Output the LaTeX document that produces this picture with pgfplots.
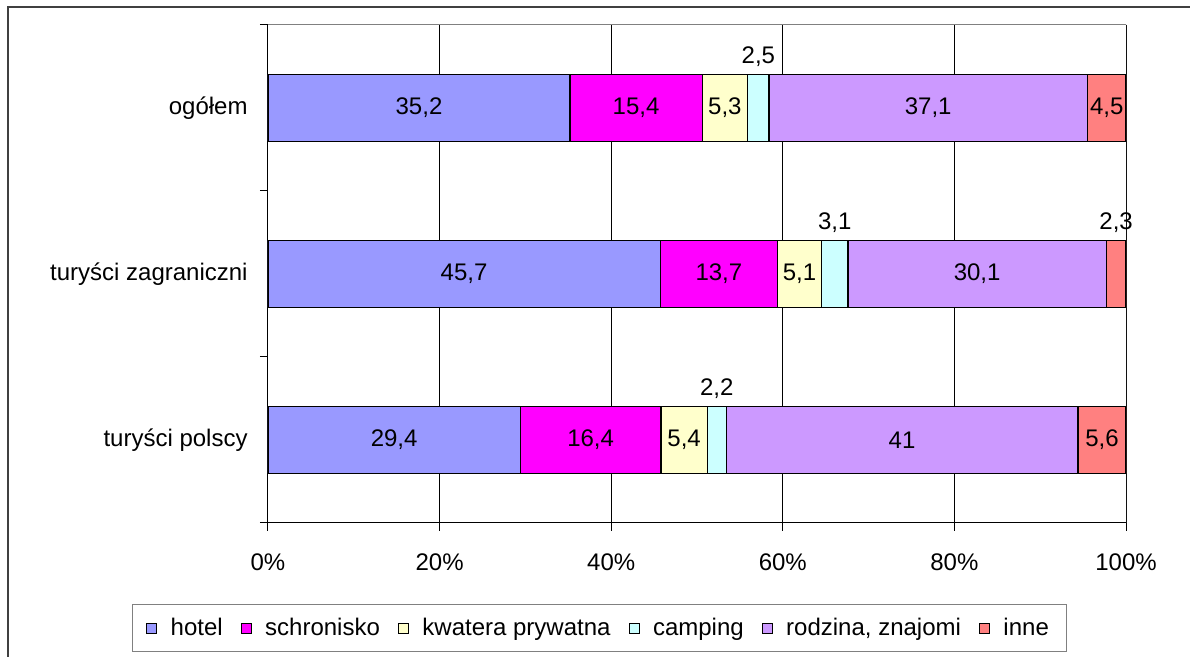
\documentclass[border=0pt]{standalone}
\usepackage{fontspec}
\setmainfont{Liberation Sans}
\usepackage{pgfplots}
\pgfplotsset{compat=1.18}

\definecolor{cHotel}{HTML}{9999FF}
\definecolor{cSchr}{HTML}{FF00FF}
\definecolor{cKwat}{HTML}{FFFFCC}
\definecolor{cCamp}{HTML}{CCFFFF}
\definecolor{cRodz}{HTML}{CC99FF}
\definecolor{cInne}{HTML}{FF8080}
\definecolor{frame}{HTML}{404040}

\begin{document}
\fontsize{12}{14.4}\selectfont
\begin{tikzpicture}
% picture is 1190 x 657 px, 1 px = 0.5pt
\useasboundingbox (0,0) rectangle (595pt,328.5pt);
\draw[frame, line width=0.8pt] (4pt,0) -- (4pt,325pt) -- (595pt,325pt);
\begin{axis}[
    at={(134pt,67pt)}, anchor=south west,
    scale only axis,
    width=429pt, height=249pt,
    xbar stacked,
    bar width=33.5pt,
    xmin=0, xmax=100,
    ymin=-0.5, ymax=2.5,
    axis x line*=bottom, axis y line*=left,
    axis line style={black, line width=0.5pt, -},
    xtick={0,20,...,100},
    xticklabel={\pgfmathprintnumber{\tick}\%},
    xticklabel style={anchor=base, yshift=-20pt},
    ytick={-0.5,0.5,1.5,2.5},
    yticklabels={},
    extra y ticks={0,1,2},
    extra y tick labels={turyści polscy, turyści zagraniczni, ogółem},
    extra y tick style={major tick length=0pt, yticklabel style={anchor=east, xshift=-6pt}},
    tick align=outside,
    major tick length=4pt,
    tick style={black, line width=0.5pt},
    xmajorgrids,
    grid style={black, line width=0.5pt},
    /pgf/number format/assume math mode=true,
    table/x=v, table/y=c, table/row sep=\\,
    visualization depends on={value \thisrow{v} \as \vv},
    nodes near coords={\pgfmathprintnumber[fixed,precision=1,use comma]{\vv}},
    every node near coord/.append style={anchor=center, black,
        yshift={(\vv<4)*25.5pt}},
    every axis plot/.append style={draw=black, line width=0.6pt},
    legend columns=-1,
    legend style={at={(axis description cs:0.3864,-0.2118)}, anchor=center,
        draw=gray, line width=0.5pt, inner xsep=7pt, inner ysep=4.5pt,
        /tikz/every even column/.append style={column sep=7pt}},
    legend image code/.code={\draw[#1, draw=black, line width=0.5pt] (0pt,-2.5pt) rectangle (5pt,2.5pt);
        \path[draw=none] (10pt,0pt);},
]
% c: 0 = turyści polscy, 1 = turyści zagraniczni, 2 = ogółem
\addplot[fill=cHotel] table {c v\\ 0 29.4\\ 1 45.7\\ 2 35.2\\};
\addplot[fill=cSchr] table {c v\\ 0 16.4\\ 1 13.7\\ 2 15.4\\};
\addplot[fill=cKwat] table {c v\\ 0 5.4\\ 1 5.1\\ 2 5.3\\};
\addplot[fill=cCamp] table {c v\\ 0 2.2\\ 1 3.1\\ 2 2.5\\};
\addplot[fill=cRodz] table {c v\\ 0 41\\ 1 30.1\\ 2 37.1\\};
\addplot[fill=cInne] table {c v\\ 0 5.6\\ 1 2.3\\ 2 4.5\\};
\legend{hotel, schronisko, kwatera prywatna, camping, {rodzina, znajomi}, inne}
\draw[gray, line width=0.5pt] (rel axis cs:0,1) -- (rel axis cs:1,1) -- (rel axis cs:1,0);
\end{axis}
\end{tikzpicture}
\end{document}
